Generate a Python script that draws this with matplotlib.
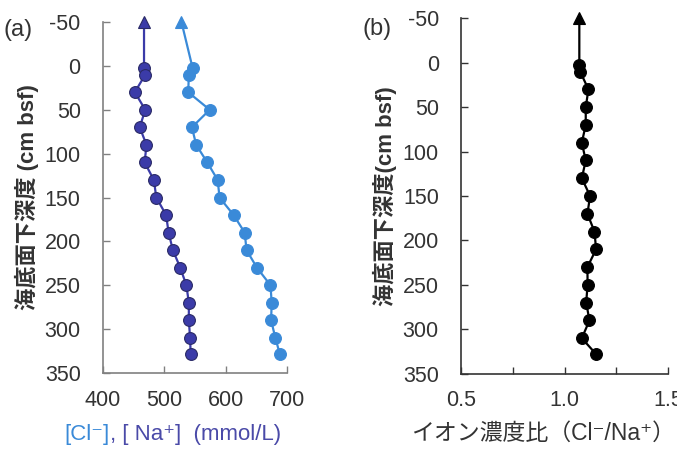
import numpy as np
import matplotlib
matplotlib.use('Agg')
import matplotlib.pyplot as plt

plt.rcParams['font.family'] = ['Liberation Sans', 'Noto Sans CJK JP', 'DejaVu Sans']
plt.rcParams['axes.unicode_minus'] = False

# depth (cm bsf); first entry is the seawater value plotted at -50
depth = [-50, 2, 10, 30, 50, 70, 90, 110, 130, 150, 170, 190, 210, 230, 250, 270, 290, 310, 328]
na = [467, 467, 469, 452, 469, 460, 471, 468, 483, 487, 503, 507, 514, 526, 536, 540, 540, 542, 543]
cl = [528, 546, 540, 539, 574, 545, 552, 570, 587, 590, 613, 631, 634, 651, 673, 675, 674, 681, 688]
ratio = [1.071, 1.071, 1.075, 1.115, 1.102, 1.102, 1.083, 1.102, 1.083, 1.123, 1.110,
         1.144, 1.152, 1.110, 1.111, 1.104, 1.120, 1.083, 1.152]

depth_ticks = [-50, 0, 50, 100, 150, 200, 250, 300, 350]
conc_ticks = [400, 500, 600, 700]
ratio_ticks = [0.5, 1.0, 1.5]

dark = '#3b3ba8'
dark_edge = '#2a2a66'
light = '#3a8ad8'
txt = '#333333'

fig = plt.figure(figsize=(6.77, 4.53), dpi=100)
axA = fig.add_axes([0.152, 0.1766, 0.272, 0.7748])
axB = fig.add_axes([0.681, 0.175, 0.306, 0.7846])

def profile(ax, x, col, edge):
    ax.plot(x, depth, color=col, lw=1.6, zorder=2)
    ax.plot(x[1:], depth[1:], ls='none', marker='o', ms=8.5, mfc=col,
            mec=edge, mew=0.8, zorder=3)
    ax.plot(x[:1], depth[:1], ls='none', marker='^', ms=9, mfc=col,
            mec=edge, mew=0.8, zorder=3, clip_on=False)

profile(axA, na, dark, dark_edge)
profile(axA, cl, light, light)
profile(axB, ratio, 'black', 'black')

for ax, sc in [(axA, '#808080'), (axB, '#333333')]:
    ax.set_ylim(350, -50)
    ax.set_yticks(depth_ticks)
    ax.spines['top'].set_visible(False)
    ax.spines['right'].set_visible(False)
    ax.spines['left'].set_color(sc)
    ax.spines['bottom'].set_color(sc)
    ax.spines['left'].set_linewidth(1.2)
    ax.spines['bottom'].set_linewidth(1.2)
    ax.tick_params(direction='in', length=5, width=1.0, color=sc,
                   labelsize=15.5, labelcolor=txt)
    ax.tick_params(axis='x', pad=12)
    ax.tick_params(axis='y', pad=16)

axA.set_ylabel('海底面下深度 (cm bsf)', fontsize=16, fontweight='bold',
               color=txt, labelpad=4)
axB.set_ylabel('海底面下深度(cm bsf)', fontsize=16, fontweight='bold',
               color=txt, labelpad=4)

axA.set_xlim(400, 700)
axA.set_xticks(conc_ticks)
axB.set_xlim(0.5, 1.5)
axB.set_xticks(ratio_ticks)
axB.set_xticklabels(['0.5', '1.0', '1.5'])
axB.set_xticks([0.75, 1.25], minor=True)
axB.tick_params(which='minor', direction='in', length=5, width=1.0, color='#333333')

fig.text(0.162, 0.040, '[Cl⁻]', color=light, fontsize=16, ha='right', va='center')
fig.text(0.162, 0.040, ', [ Na⁺]  (mmol/L)', color='#4a4aa8', fontsize=16,
         ha='left', va='center')
fig.text(0.802, 0.044, 'イオン濃度比（Cl⁻/Na⁺）', color=txt, fontsize=16.5,
         ha='center', va='center')

fig.text(0.027, 0.934, '(a)', fontsize=17, color=txt, ha='center', va='center')
fig.text(0.557, 0.936, '(b)', fontsize=17, color=txt, ha='center', va='center')

fig.savefig('out.png', dpi=100)
